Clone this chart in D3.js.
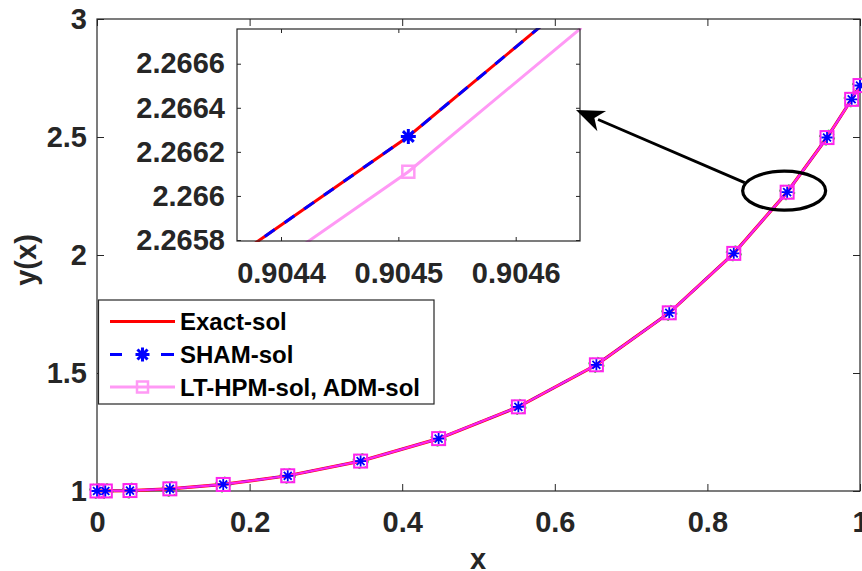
<!DOCTYPE html>
<html>
<head>
<meta charset="utf-8">
<script src="https://cdn.jsdelivr.net/npm/d3@7"></script>
<style>
  html, body { margin: 0; padding: 0; background: #fff; }
  svg { display: block; }
  text { font-family: "Liberation Sans", Arial, Helvetica, sans-serif; font-weight: bold; }
</style>
</head>
<body>
<svg id="chart" width="862" height="571"></svg>
<script>
// Collocation nodes on [0, 1]
const xNodes = [0, 0.0109262, 0.0432273, 0.0954915, 0.1654347, 0.25, 0.3454915, 0.4477358,
  0.5522642, 0.6545085, 0.75, 0.8345653, 0.9045085, 0.9567727, 0.9890738, 1];
// Exact solution at the nodes
const exactSol = [1, 1.0001194, 1.0018703, 1.0091603, 1.0277465, 1.0644945, 1.1267805, 1.2219737,
  1.3566194, 1.5347712, 1.7550547, 2.0069162, 2.2662698, 2.4978098, 2.6598432, 2.7182818];
// SHAM approximation at the nodes
const shamSol = [1, 1.0001194, 1.0018703, 1.0091603, 1.0277465, 1.0644945, 1.1267805, 1.2219737,
  1.3566194, 1.5347712, 1.7550547, 2.0069162, 2.2662698, 2.4978098, 2.6598432, 2.7182818];
// LT-HPM / ADM approximation at the nodes
const ltHpmSol = [1, 1.0001194, 1.0018703, 1.0091603, 1.0277455, 1.0644915, 1.1267725, 1.2219587,
  1.3565934, 1.5347292, 1.7549897, 2.0068162, 2.2661098, 2.4975798, 2.6595532, 2.7179618];

const xTicks = [0, 0.2, 0.4, 0.6, 0.8, 1];
const xTickLabels = ["0", "0.2", "0.4", "0.6", "0.8", "1"];
const yTicks = [1, 1.5, 2, 2.5, 3];
const yTickLabels = ["1", "1.5", "2", "2.5", "3"];
const insetXTicks = [0.9044, 0.9045, 0.9046];
const insetXTickLabels = ["0.9044", "0.9045", "0.9046"];
const insetYTicks = [2.2658, 2.266, 2.2662, 2.2664, 2.2666];
const insetYTickLabels = ["2.2658", "2.266", "2.2662", "2.2664", "2.2666"];
const legendLabels = ["Exact-sol", "SHAM-sol", "LT-HPM-sol, ADM-sol"];

const AX = "#262626";
const RED = "#ff0000", BLUE = "#0000ff", PINK = "#ff99f5", MAG = "#ff22ee", GREEN = "#22dd22";
const TICK_FONT = 29;

const svg = d3.select("#chart");

// ---------- main axes ----------
const M = { left: 97, right: 860, top: 19, bottom: 491 };
const x = d3.scaleLinear().domain([0, 1]).range([M.left, M.right]);
const y = d3.scaleLinear().domain([1, 3]).range([M.bottom, M.top]);

function starPath(r) {
  const d = r * 0.72;
  return `M${-r},0H${r}M0,${-r}V${r}M${-d},${-d}L${d},${d}M${-d},${d}L${d},${-d}`;
}

function styleAxis(g, size) {
  g.select(".domain").remove();
  g.selectAll(".tick line").attr("stroke", AX).attr("stroke-width", 1);
  g.selectAll(".tick text").attr("fill", AX).style("font-size", size + "px");
}

const main = svg.append("g");

main.append("g").attr("transform", `translate(0,${M.bottom})`)
  .call(d3.axisBottom(x).tickValues(xTicks).tickFormat((d, i) => xTickLabels[i])
    .tickSizeInner(-7).tickSizeOuter(0).tickPadding(20))
  .call(g => styleAxis(g, TICK_FONT));
main.append("g").attr("transform", `translate(0,${M.top})`)
  .call(d3.axisTop(x).tickValues(xTicks).tickFormat("").tickSizeInner(-7).tickSizeOuter(0))
  .call(g => styleAxis(g, TICK_FONT));
main.append("g").attr("transform", `translate(${M.left},0)`)
  .call(d3.axisLeft(y).tickValues(yTicks).tickFormat((d, i) => yTickLabels[i])
    .tickSizeInner(-7).tickSizeOuter(0).tickPadding(10))
  .call(g => styleAxis(g, TICK_FONT));
main.append("g").attr("transform", `translate(${M.right},0)`)
  .call(d3.axisRight(y).tickValues(yTicks).tickFormat("").tickSizeInner(-7).tickSizeOuter(0))
  .call(g => styleAxis(g, TICK_FONT));

main.append("rect")
  .attr("x", M.left).attr("y", M.top)
  .attr("width", M.right - M.left).attr("height", M.bottom - M.top)
  .attr("fill", "none").attr("stroke", AX).attr("stroke-width", 1.2);

// axis labels
main.append("text").attr("x", (M.left + M.right) / 2 - 0.5).attr("y", 569)
  .attr("text-anchor", "middle").style("font-size", "29px").attr("fill", AX).text("x");
main.append("text").attr("transform", `translate(36,${(M.top + M.bottom) / 2 + 5}) rotate(-90)`)
  .attr("text-anchor", "middle").style("font-size", "29px").attr("fill", AX).text("y(x)");

// curves
const lineMain = (vals) => d3.line().x((d, i) => x(xNodes[i])).y(d => y(d))(vals);

main.append("path").attr("d", lineMain(exactSol))
  .attr("fill", "none").attr("stroke", RED).attr("stroke-width", 3.2);
main.append("path").attr("d", lineMain(shamSol))
  .attr("fill", "none").attr("stroke", BLUE).attr("stroke-width", 2).attr("stroke-dasharray", "10,6");
main.append("path").attr("d", lineMain(ltHpmSol))
  .attr("fill", "none").attr("stroke", MAG).attr("stroke-width", 2.2);

// markers: ADM circles, LT-HPM squares, SHAM stars
main.append("g").selectAll("circle").data(ltHpmSol).join("circle")
  .attr("cx", (d, i) => x(xNodes[i])).attr("cy", d => y(d)).attr("r", 7.5)
  .attr("fill", "none").attr("stroke", GREEN).attr("stroke-width", 1.2).attr("stroke-dasharray", "2,4");
main.append("g").selectAll("rect").data(ltHpmSol).join("rect")
  .attr("x", (d, i) => x(xNodes[i]) - 6.5).attr("y", d => y(d) - 6.5)
  .attr("width", 13).attr("height", 13)
  .attr("fill", "none").attr("stroke", MAG).attr("stroke-width", 2);
main.append("g").selectAll("path").data(shamSol).join("path")
  .attr("transform", (d, i) => `translate(${x(xNodes[i])},${y(d)})`)
  .attr("d", starPath(5.5)).attr("fill", "none").attr("stroke", BLUE).attr("stroke-width", 1.8);

// ---------- legend ----------
const L = svg.append("g");
L.append("rect").attr("x", 98.5).attr("y", 300).attr("width", 335.5).attr("height", 104)
  .attr("fill", "#fff").attr("stroke", AX).attr("stroke-width", 1.2);
const rowY = [321.5, 354.5, 387];
L.append("line").attr("x1", 110).attr("x2", 175).attr("y1", rowY[0]).attr("y2", rowY[0])
  .attr("stroke", RED).attr("stroke-width", 3);
L.append("line").attr("x1", 110).attr("x2", 122).attr("y1", rowY[1]).attr("y2", rowY[1])
  .attr("stroke", BLUE).attr("stroke-width", 3);
L.append("line").attr("x1", 161).attr("x2", 174).attr("y1", rowY[1]).attr("y2", rowY[1])
  .attr("stroke", BLUE).attr("stroke-width", 3);
L.append("path").attr("transform", `translate(142.5,${rowY[1]})`).attr("d", starPath(7))
  .attr("fill", "none").attr("stroke", BLUE).attr("stroke-width", 3);
L.append("line").attr("x1", 110).attr("x2", 175).attr("y1", rowY[2]).attr("y2", rowY[2])
  .attr("stroke", PINK).attr("stroke-width", 3);
L.append("rect").attr("x", 137).attr("y", rowY[2] - 5.5).attr("width", 11).attr("height", 11)
  .attr("fill", "none").attr("stroke", PINK).attr("stroke-width", 2.5);
L.selectAll("text.lg").data(legendLabels).join("text").attr("class", "lg")
  .attr("x", 180).attr("y", (d, i) => rowY[i] + 8.5)
  .style("font-size", "24px").attr("fill", "#000").text(d => d);

// ---------- zoomed inset ----------
const I = { left: 237, right: 580, top: 29, bottom: 241 };
const xi = d3.scaleLinear().domain([0.9043625, 0.9046548]).range([I.left, I.right]);
const yi = d3.scaleLinear().domain([2.2657955, 2.2667575]).range([I.bottom, I.top]);

const inset = svg.append("g");
inset.append("rect").attr("x", I.left).attr("y", I.top)
  .attr("width", I.right - I.left).attr("height", I.bottom - I.top).attr("fill", "#fff");

svg.append("defs").append("clipPath").attr("id", "insetClip")
  .append("rect").attr("x", I.left).attr("y", I.top - 1)
  .attr("width", I.right - I.left + 2).attr("height", I.bottom - I.top + 2);

// the inset only needs the nodes on either side of the zoomed one
const insetIdx = [11, 12, 13];
const pick = (arr) => insetIdx.map(i => arr[i]);
const lineI = (vals) => d3.line().x((d, k) => xi(xNodes[insetIdx[k]])).y(d => yi(d))(vals);

const ic = inset.append("g").attr("clip-path", "url(#insetClip)");
ic.append("path").attr("d", lineI(pick(exactSol)))
  .attr("fill", "none").attr("stroke", RED).attr("stroke-width", 3);
ic.append("path").attr("d", lineI(pick(shamSol)))
  .attr("fill", "none").attr("stroke", BLUE).attr("stroke-width", 3).attr("stroke-dasharray", "12,12");
ic.append("path").attr("d", lineI(pick(ltHpmSol)))
  .attr("fill", "none").attr("stroke", PINK).attr("stroke-width", 3);
ic.append("rect")
  .attr("x", xi(xNodes[12]) - 6).attr("y", yi(ltHpmSol[12]) - 6).attr("width", 12).attr("height", 12)
  .attr("fill", "none").attr("stroke", PINK).attr("stroke-width", 2.5);
ic.append("path").attr("transform", `translate(${xi(xNodes[12])},${yi(shamSol[12])})`)
  .attr("d", starPath(7.5)).attr("fill", "none").attr("stroke", BLUE).attr("stroke-width", 3);

inset.append("g").attr("transform", `translate(0,${I.bottom})`)
  .call(d3.axisBottom(xi).tickValues(insetXTicks).tickFormat((d, i) => insetXTickLabels[i])
    .tickSizeInner(-4).tickSizeOuter(0).tickPadding(21))
  .call(g => styleAxis(g, TICK_FONT));
inset.append("g").attr("transform", `translate(0,${I.top})`)
  .call(d3.axisTop(xi).tickValues(insetXTicks).tickFormat("").tickSizeInner(-4).tickSizeOuter(0))
  .call(g => styleAxis(g, TICK_FONT));
inset.append("g").attr("transform", `translate(${I.left},0)`)
  .call(d3.axisLeft(yi).tickValues(insetYTicks).tickFormat((d, i) => insetYTickLabels[i])
    .tickSizeInner(-4).tickSizeOuter(0).tickPadding(12))
  .call(g => styleAxis(g, TICK_FONT));
inset.append("g").attr("transform", `translate(${I.right},0)`)
  .call(d3.axisRight(yi).tickValues(insetYTicks).tickFormat("").tickSizeInner(-4).tickSizeOuter(0))
  .call(g => styleAxis(g, TICK_FONT));
inset.append("rect").attr("x", I.left).attr("y", I.top)
  .attr("width", I.right - I.left).attr("height", I.bottom - I.top)
  .attr("fill", "none").attr("stroke", AX).attr("stroke-width", 1.2);

// ---------- ellipse around the zoomed node and arrow to the inset ----------
const ex = x(xNodes[12]) - 3, ey = y(exactSol[12]) - 1.5, erx = 41.5, ery = 19.5;
svg.append("ellipse").attr("cx", ex).attr("cy", ey).attr("rx", erx).attr("ry", ery)
  .attr("fill", "none").attr("stroke", "#000").attr("stroke-width", 3.2);

const ax0 = ex - erx + 2, ay0 = ey - 8;
const ax1 = I.right - 4, ay1 = 110;
const ang = Math.atan2(ay1 - ay0, ax1 - ax0);
const headLen = 28, headW = 11;
const bx = ax1 - headLen * Math.cos(ang), by = ay1 - headLen * Math.sin(ang);
svg.append("line").attr("x1", ax0).attr("y1", ay0).attr("x2", bx + 4 * Math.cos(ang)).attr("y2", by + 4 * Math.sin(ang))
  .attr("stroke", "#000").attr("stroke-width", 2.8);
const px = -Math.sin(ang), py = Math.cos(ang);
const notch = 8;
svg.append("path")
  .attr("d", `M${ax1},${ay1}L${bx + headW * px},${by + headW * py}` +
    `L${bx + notch * Math.cos(ang)},${by + notch * Math.sin(ang)}` +
    `L${bx - headW * px},${by - headW * py}Z`)
  .attr("fill", "#000");
</script>
</body>
</html>
